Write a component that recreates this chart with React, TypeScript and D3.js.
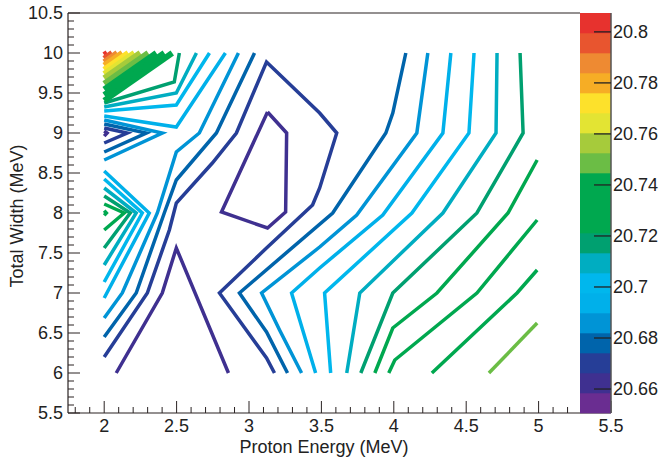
import React from 'react';
import * as d3 from 'd3';

const W = 660;
const H = 462;
const plotLeft = 68;
const plotRight = 611;
const plotTop = 13;
const plotBottom = 413;
const paletteLeft = 580;

const xDomain: [number, number] = [1.75, 5.5];
const yDomain: [number, number] = [5.5, 10.5];
const zDomain: [number, number] = [20.6506, 20.8074];

const xMajorTicks = [2, 2.5, 3, 3.5, 4, 4.5, 5, 5.5];
const xTickLabels = ['2', '2.5', '3', '3.5', '4', '4.5', '5', '5.5'];
const yMajorTicks = [5.5, 6, 6.5, 7, 7.5, 8, 8.5, 9, 9.5, 10, 10.5];
const yTickLabels = ['5.5', '6', '6.5', '7', '7.5', '8', '8.5', '9', '9.5', '10', '10.5'];
const zTicks = [20.66, 20.68, 20.7, 20.72, 20.74, 20.76, 20.78, 20.8];
const zTickLabels = ['20.66', '20.68', '20.7', '20.72', '20.74', '20.76', '20.78', '20.8'];

// palette band colours, lowest level first (20 contour bands)
const bandColors = [
  '#6a2d91', '#3f3090', '#263e97', '#0064ab', '#0094d6',
  '#00b0ea', '#00b7ed', '#00adc1', '#00a070', '#00a84f',
  '#00a84f', '#00a84f', '#6bbd45', '#a6cb3b', '#e3e433',
  '#fde12b', '#f6ad25', '#ee8a32', '#e8552f', '#e7322e',
];

type Pt = [number, number];
type Contour = { band: number; pts: Pt[] };

// fan of contours in the top-left corner (x at top edge, y at left edge)
const fanBands = [19, 18, 17, 16, 15, 14, 13, 12, 11, 10, 9];
const fanTopX = [2.021, 2.055, 2.09, 2.125, 2.166, 2.208, 2.249, 2.304, 2.36, 2.415, 2.47];
const fanLeftY = [9.974, 9.93, 9.886, 9.843, 9.79, 9.738, 9.685, 9.615, 9.545, 9.475, 9.405];

const lowLevelLines: Contour[] = [
  { band: 1, pts: [[2.083, 6.0], [2.401, 7.0], [2.498, 7.5625], [2.858, 6.0]] },
  { band: 1, pts: [[3.128, 9.2625], [3.26, 9.0], [3.253, 8.0125], [3.128, 7.8125], [2.81, 8.0125], [3.128, 9.2625]] },
  { band: 1, pts: [[2.0, 9.025], [2.02, 9.0], [2.0, 8.96]] },
  {
    band: 2, pts: [[3.176, 6.0], [3.121, 6.1875], [2.796, 7.0], [3.121, 7.5625], [3.439, 8.1], [3.488, 8.3125],
      [3.606, 9.0], [3.488, 9.25], [3.121, 9.8875], [2.913, 9.0], [2.747, 8.625], [2.498, 8.125],
      [2.45, 7.7875], [2.298, 7.0], [2.0, 6.2]],
  },
  { band: 2, pts: [[2.0, 9.0625], [2.159, 9.0], [2.0, 8.875]] },
];

const blueLines: Contour[] = [
  { band: 3, pts: [[4.083, 10], [3.993, 9.25], [3.945, 9.0], [3.578, 8.0], [2.934, 7.0], [3.121, 6.5125], [3.266, 6.0]] },
  { band: 3, pts: [[3.038, 10], [2.775, 9.0], [2.498, 8.4125], [2.415, 8.0], [2.221, 7.0], [2.0, 6.45]] },
  { band: 3, pts: [[2.0, 9.1125], [2.291, 9.0], [2.0, 8.7625]] },
  { band: 4, pts: [[4.235, 10], [4.159, 9.0], [3.744, 7.975], [3.488, 7.575], [3.087, 7.0], [3.211, 6.5375], [3.363, 6.0]] },
  { band: 4, pts: [[2.927, 10], [2.657, 9.0], [2.498, 8.7625], [2.367, 8.0], [2.125, 7.0], [2.0, 6.6875]] },
  { band: 4, pts: [[2.0, 9.1625], [2.401, 9.0], [2.0, 8.6625]] },
];

const cyanLines: Contour[] = [
  { band: 5, pts: [[4.394, 10], [4.339, 9.0], [3.924, 7.975], [3.488, 7.3125], [3.294, 7.0], [3.46, 6.0]] },
  { band: 5, pts: [[2.837, 10], [2.498, 9.075], [2.0, 9.2125]] },
  { band: 5, pts: [[2.0, 8.525], [2.311, 8.0], [2.0, 6.9375]] },
  { band: 6, pts: [[4.554, 10], [4.519, 9.0], [4.125, 8.0], [3.522, 7.0], [3.564, 6.0]] },
  { band: 6, pts: [[2.727, 10], [2.498, 9.35], [2.0, 9.275]] },
  { band: 6, pts: [[2.0, 8.425], [2.263, 8.0], [2.0, 7.1375]] },
  { band: 7, pts: [[4.713, 10], [4.706, 9.0], [4.339, 8.0], [3.765, 7.0], [3.675, 6.0]] },
  { band: 7, pts: [[2.637, 10], [2.498, 9.5], [2.0, 9.325]] },
  { band: 7, pts: [[2.0, 8.3125], [2.221, 8.0], [2.0, 7.35]] },
];

const greenLines: Contour[] = [
  { band: 8, pts: [[4.872, 10], [4.893, 9.0], [4.574, 8.0], [3.993, 7.0], [3.772, 6.0]] },
  { band: 8, pts: [[2.519, 10], [2.484, 9.6375], [2.0, 9.375]] },
  { band: 8, pts: [[2.0, 8.2125], [2.18, 8.0], [2.0, 7.5625]] },
  { band: 9, pts: [[4.99, 8.6625], [4.789, 8.0], [4.298, 7.0], [3.993, 6.5625], [3.869, 6.0]] },
  { band: 9, pts: [[2.0, 8.1125], [2.138, 8.0], [2.0, 7.7875]] },
  { band: 10, pts: [[4.99, 7.9125], [4.574, 7.0], [4.007, 6.1625], [3.965, 6.0]] },
  { band: 10, pts: [[2.0, 8.03], [2.015, 8.0], [2.0, 7.97]] },
  { band: 11, pts: [[4.99, 7.2875], [4.851, 7.0], [4.263, 6.0]] },
  { band: 12, pts: [[4.99, 6.625], [4.657, 6.0]] },
];

const font = 'Liberation Sans, Arial, Helvetica, sans-serif';

export default function App() {
  const x = d3.scaleLinear().domain(xDomain).range([plotLeft, plotRight]);
  const y = d3.scaleLinear().domain(yDomain).range([plotBottom, plotTop]);
  const z = d3.scaleLinear().domain(zDomain).range([plotBottom, plotTop]);
  const line = d3.line<Pt>().x((d) => x(d[0])).y((d) => y(d[1]));

  const fanLines: Contour[] = fanBands.map((b, i) => ({ band: b, pts: [[fanTopX[i], 10], [2, fanLeftY[i]]] }));
  const all: Contour[] = [...lowLevelLines, ...blueLines, ...cyanLines, ...greenLines];

  const xMinor = d3.range(18, 56).map((v) => v / 10).filter((v) => !xMajorTicks.some((m) => Math.abs(m - v) < 1e-6));
  const yMinor = d3.range(56, 105).map((v) => v / 10).filter((v) => !yMajorTicks.some((m) => Math.abs(m - v) < 1e-6));

  const bandStep = (zDomain[1] - zDomain[0]) / bandColors.length;
  const axisColor = '#2a2323';

  return (
    <svg width={W} height={H} style={{ position: 'absolute', left: 0, top: 0, background: '#fff' }} fontFamily={font}>
      <rect x={0} y={0} width={W} height={H} fill="#fff" />
      {/* contours */}
      <g fill="none" strokeWidth={3.5} strokeLinejoin="miter" strokeLinecap="butt">
        {all.map((c, i) => (
          <path key={i} d={line(c.pts) || ''} stroke={bandColors[c.band]} />
        ))}
      </g>
      <g fill="none" strokeWidth={6} strokeLinecap="butt">
        {fanLines.map((c, i) => (
          <path key={'f' + i} d={line(c.pts) || ''} stroke={bandColors[c.band]} />
        ))}
      </g>
      {/* frame */}
      <line x1={plotLeft} x2={paletteLeft} y1={plotTop} y2={plotTop} stroke={axisColor} strokeWidth={1.2} />
      <line x1={plotLeft} x2={plotRight} y1={plotBottom} y2={plotBottom} stroke={axisColor} strokeWidth={1.2} />
      <line x1={plotLeft} x2={plotLeft} y1={plotTop} y2={plotBottom} stroke={axisColor} strokeWidth={1.2} />
      {/* x ticks */}
      {xMajorTicks.map((v, i) => (
        <g key={'xm' + i}>
          <line x1={x(v)} x2={x(v)} y1={plotBottom} y2={plotBottom - 12} stroke={axisColor} />
          <text x={x(v)} y={432} textAnchor="middle" fontSize={18} fill="#222">{xTickLabels[i]}</text>
        </g>
      ))}
      {xMinor.map((v, i) => (
        <line key={'xn' + i} x1={x(v)} x2={x(v)} y1={plotBottom} y2={plotBottom - 6} stroke={axisColor} />
      ))}
      {/* y ticks */}
      {yMajorTicks.map((v, i) => (
        <g key={'ym' + i}>
          <line x1={plotLeft} x2={plotLeft + 12} y1={y(v)} y2={y(v)} stroke={axisColor} />
          <text x={63} y={y(v) + 6.4} textAnchor="end" fontSize={18} fill="#222">{yTickLabels[i]}</text>
        </g>
      ))}
      {yMinor.map((v, i) => (
        <line key={'yn' + i} x1={plotLeft} x2={plotLeft + 6} y1={y(v)} y2={y(v)} stroke={axisColor} />
      ))}
      {/* palette */}
      {bandColors.map((c, i) => (
        <rect key={'p' + i} x={paletteLeft} width={plotRight - paletteLeft}
          y={z(zDomain[0] + (i + 1) * bandStep)} height={z(zDomain[0] + i * bandStep) - z(zDomain[0] + (i + 1) * bandStep) + 0.3}
          fill={c} />
      ))}
      <line x1={plotRight} x2={plotRight} y1={plotTop} y2={plotBottom} stroke="#555" strokeWidth={1.5} />
      {zTicks.map((v, i) => (
        <g key={'z' + i}>
          <line x1={plotRight - 17} x2={plotRight} y1={z(v)} y2={z(v)} stroke="#222" strokeWidth={1.3} />
          <text x={613} y={z(v) + 6.4} fontSize={18} fill="#222">{zTickLabels[i]}</text>
        </g>
      ))}
      {/* titles */}
      <text x={324} y={453} textAnchor="middle" fontSize={18} fill="#222">Proton Energy (MeV)</text>
      <text transform="translate(23,216) rotate(-90)" textAnchor="middle" fontSize={18} fill="#222">Total Width (MeV)</text>
    </svg>
  );
}
